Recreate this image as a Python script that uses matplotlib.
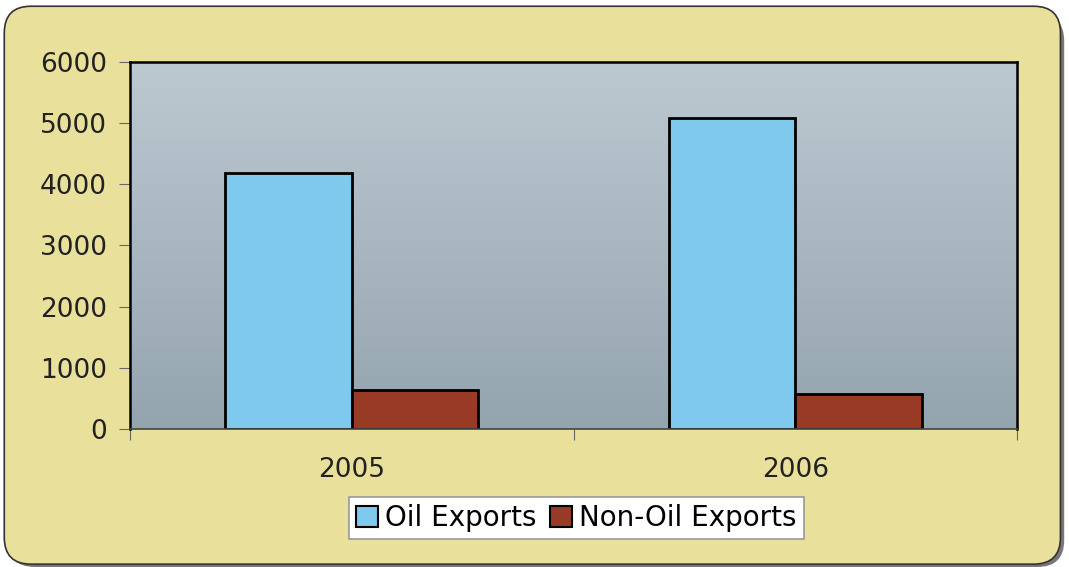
import numpy as np
import matplotlib.pyplot as plt
from matplotlib.patches import FancyBboxPatch, Patch

years = ['2005', '2006']
oil_exports = [4190, 5090]
non_oil_exports = [640, 575]
series_names = ['Oil Exports', 'Non-Oil Exports']
y_ticks = [0, 1000, 2000, 3000, 4000, 5000, 6000]

oil_color = '#7FC8EE'
non_oil_color = '#983A26'
panel_color = '#E8E09B'
grad_top = np.array([189, 201, 209]) / 255
grad_bottom = np.array([148, 164, 175]) / 255

plt.rcParams['font.family'] = ['DejaVu Sans']

fig = plt.figure(figsize=(10.69, 5.67), dpi=100)
fig.patch.set_facecolor('white')

# panel shadow + rounded panel
shadow = FancyBboxPatch((0.0075, 0.0), 0.988, 0.975, boxstyle='round,pad=0,rounding_size=0.025',
                        transform=fig.transFigure, facecolor='#777777', edgecolor='none',
                        mutation_aspect=1069 / 567, zorder=0)
panel = FancyBboxPatch((0.004, 0.005), 0.988, 0.984, boxstyle='round,pad=0,rounding_size=0.025',
                       transform=fig.transFigure, facecolor=panel_color, edgecolor='#333333',
                       linewidth=1.2, mutation_aspect=1069 / 567, zorder=1)
fig.patches.extend([shadow, panel])

ax = fig.add_axes([0.1216, 0.2434, 0.8298, 0.6473])
ax.set_zorder(2)

# vertical gradient background
grad = np.linspace(0, 1, 256)[:, None]
img = grad_top[None, None, :] * (1 - grad[:, :, None]) + grad_bottom[None, None, :] * grad[:, :, None]
ax.imshow(img, extent=[-0.5, 1.5, 0, 6000], aspect='auto', origin='upper', zorder=0)

x = np.arange(len(years))
width = 0.285
ax.bar(x - width / 2, oil_exports, width, color=oil_color, edgecolor='black', linewidth=2, zorder=2)
ax.bar(x + width / 2, non_oil_exports, width, color=non_oil_color, edgecolor='black', linewidth=2, zorder=2)

ax.set_xlim(-0.5, 1.5)
ax.set_ylim(0, 6000)
ax.set_yticks(y_ticks)
ax.set_yticklabels([str(v) for v in y_ticks], fontsize=19, color='#222222')
ax.set_xticks([-0.5, 0.5, 1.5])
ax.set_xticklabels([])
ax.set_xticks(x, minor=True)
ax.set_xticklabels(years, minor=True, fontsize=19, color='#222222')
ax.tick_params(axis='x', which='minor', length=0, pad=20)
ax.tick_params(axis='x', which='major', length=8, color='#666666', direction='out')
ax.tick_params(axis='y', length=8, color='#666666', direction='out', pad=8.5)

for side in ['left', 'top', 'right']:
    ax.spines[side].set_color('black')
    ax.spines[side].set_linewidth(1.8)
ax.spines['bottom'].set_color('#444444')
ax.spines['bottom'].set_linewidth(1.2)

handles = [Patch(facecolor=oil_color, edgecolor='black', linewidth=1.5),
           Patch(facecolor=non_oil_color, edgecolor='black', linewidth=1.5)]
leg = fig.legend(handles, series_names, loc='center', bbox_to_anchor=(0.539, 0.086), ncol=2,
                 fontsize=20, frameon=True, fancybox=False, edgecolor='#999999', framealpha=1,
                 facecolor='white', handlelength=0.8, handleheight=0.8, handletextpad=0.25,
                 columnspacing=0.5, borderpad=0.25, borderaxespad=0)
leg.get_frame().set_linewidth(1.2)
leg.set_zorder(3)

fig.savefig('out.png', dpi=100)
